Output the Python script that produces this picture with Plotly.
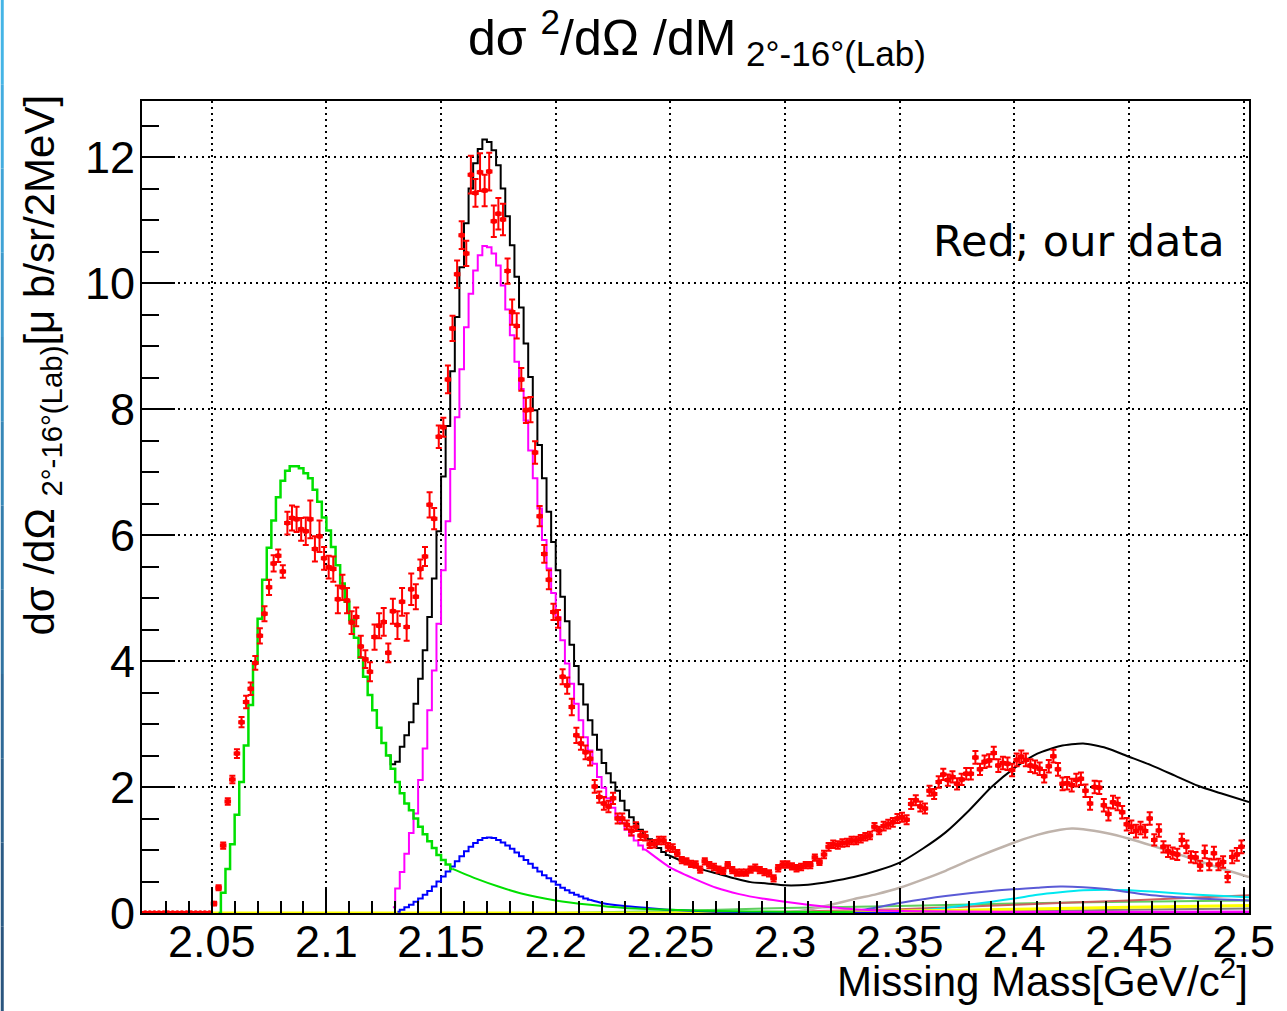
import plotly.graph_objects as go

# ---------------- binning (2 MeV bins from 2.02 GeV) ----------------
bin_lo = 2.02
bin_w = 0.002

# ---------------- red data points (bin centres 2.021 ... 2.499) ----------------
data_y = [
    0, 0, 0, 0, 0, 0, 0, 0, 0, 0, 0, 0, 0, 0, 0,
    0.15, 0.40, 1.07, 1.77, 2.12, 2.53, 3.03, 3.35, 3.56, 3.97,
    4.40, 4.75, 5.17, 5.55, 5.67, 5.42, 6.19, 6.27, 6.25, 6.09,
    6.06, 6.25, 5.78, 5.98, 5.63, 5.49, 5.46, 4.98, 5.17, 4.96,
    4.61, 4.70, 4.23, 4.03, 3.83, 4.38, 4.56, 4.62, 4.13, 4.79,
    4.57, 4.94, 4.54, 5.14, 5.02, 5.46, 5.66, 6.48, 6.26, 7.56,
    7.71,
    8.47, 9.28, 10.14, 10.76, 10.47, 11.72, 11.43, 11.76, 11.47, 11.77,
    10.98, 11.10, 11.01, 10.19, 9.54, 9.32, 8.47, 7.98, 7.99, 7.31,
    6.30, 5.70, 5.29,
    4.78, 4.67, 3.75, 3.61, 3.27, 2.82, 2.69, 2.55, 2.45, 2.01,
    1.84, 1.74, 1.69, 1.82, 1.50, 1.50, 1.40, 1.30, 1.37, 1.23,
    1.22, 1.09, 1.10, 1.15, 1.15, 1.05,
    1.03, 0.95, 0.84, 0.82, 0.78, 0.77, 0.69, 0.82, 0.76, 0.73,
    0.69, 0.67, 0.76, 0.68, 0.64, 0.64, 0.64, 0.69, 0.72, 0.68,
    0.65, 0.63, 0.55, 0.71, 0.77, 0.77, 0.74, 0.71, 0.73, 0.76,
    0.76, 0.88, 0.81, 0.93, 1.05, 1.09, 1.08, 1.11, 1.12, 1.15,
    1.15, 1.18, 1.21, 1.23, 1.37,
    1.31, 1.38, 1.41, 1.44, 1.50, 1.52, 1.48, 1.73, 1.79, 1.69,
    1.66, 1.94, 1.89, 2.08, 2.20, 2.11, 2.16, 2.05, 2.12, 2.21,
    2.21, 2.47, 2.28, 2.40, 2.42, 2.54, 2.34, 2.38, 2.37, 2.27,
    2.43, 2.48, 2.43, 2.34, 2.32, 2.29, 2.17, 2.33, 2.49, 2.28,
    2.05, 2.06, 2.03, 2.11, 2.13, 1.94, 1.74, 2.00, 1.99, 1.71,
    1.57, 1.76, 1.73, 1.60, 1.41, 1.37, 1.30, 1.35, 1.30, 1.50,
    1.16, 1.31, 1.05, 0.98, 0.95, 0.93, 1.16, 1.05, 0.89, 0.88,
    0.75, 0.97, 0.77, 0.95, 0.77, 0.81, 0.57, 0.89, 0.93, 1.05,
]
data_err = [
    0, 0, 0, 0, 0, 0, 0, 0, 0, 0, 0, 0, 0, 0, 0,
    0.03, 0.04, 0.05, 0.05, 0.06, 0.07, 0.08, 0.10, 0.10, 0.11,
    0.12, 0.12, 0.12, 0.13, 0.10, 0.10, 0.18, 0.20, 0.20, 0.18,
    0.22, 0.30, 0.20, 0.25, 0.18, 0.18, 0.20, 0.22, 0.20, 0.20,
    0.18, 0.15, 0.17, 0.14, 0.15, 0.20, 0.20, 0.22, 0.15, 0.20,
    0.22, 0.22, 0.22, 0.25, 0.20, 0.15, 0.15, 0.20, 0.17, 0.18,
    0.15,
    0.22, 0.20, 0.22, 0.22, 0.20, 0.30, 0.22, 0.30, 0.25, 0.30,
    0.25, 0.25, 0.25, 0.20, 0.20, 0.20, 0.18, 0.20, 0.20, 0.18,
    0.16, 0.14, 0.15,
    0.13, 0.14, 0.12, 0.13, 0.13, 0.12, 0.10, 0.11, 0.11, 0.10,
    0.09, 0.10, 0.09, 0.09, 0.08, 0.08, 0.07, 0.07, 0.07, 0.07,
    0.07, 0.06, 0.06, 0.06, 0.06, 0.06,
    0.06, 0.05, 0.05, 0.05, 0.05, 0.05, 0.05, 0.05, 0.05, 0.05,
    0.05, 0.05, 0.05, 0.05, 0.05, 0.05, 0.05, 0.05, 0.05, 0.05,
    0.05, 0.05, 0.05, 0.05, 0.05, 0.05, 0.05, 0.05, 0.05, 0.05,
    0.05, 0.05, 0.05, 0.06, 0.06, 0.06, 0.06, 0.06, 0.06, 0.06,
    0.06, 0.06, 0.06, 0.06, 0.06,
    0.06, 0.07, 0.07, 0.07, 0.07, 0.07, 0.07, 0.08, 0.08, 0.08,
    0.08, 0.08, 0.08, 0.09, 0.09, 0.09, 0.09, 0.09, 0.09, 0.09,
    0.09, 0.10, 0.09, 0.10, 0.10, 0.10, 0.10, 0.10, 0.10, 0.10,
    0.10, 0.10, 0.10, 0.10, 0.10, 0.10, 0.10, 0.10, 0.10, 0.10,
    0.10, 0.10, 0.10, 0.10, 0.10, 0.10, 0.10, 0.10, 0.10, 0.10,
    0.10, 0.10, 0.10, 0.10, 0.10, 0.10, 0.10, 0.10, 0.10, 0.10,
    0.09, 0.10, 0.09, 0.09, 0.09, 0.09, 0.10, 0.10, 0.09, 0.09,
    0.08, 0.10, 0.09, 0.10, 0.09, 0.09, 0.08, 0.10, 0.10, 0.10,
]

# ---------------- fitted components: 2 MeV step parts ----------------
green_x0 = 2.053
green_step = [
    0.00, 0.32, 0.70, 1.09, 1.56, 2.08, 2.66, 3.30, 3.97, 4.67,
    5.29, 5.80, 6.23, 6.60, 6.86, 7.02, 7.09, 7.09, 7.06, 6.98,
    6.90, 6.72, 6.53, 6.28, 6.07, 5.81, 5.52, 5.23, 4.94, 4.65,
    4.37, 4.05, 3.75, 3.46, 3.22, 2.94, 2.70, 2.50, 2.29, 2.08,
    1.90, 1.74, 1.63, 1.50, 1.37, 1.25, 1.14, 1.03, 0.92, 0.84,
    0.77, 0.70,
]
green_tail_x = [2.155, 2.165, 2.175, 2.185, 2.200, 2.215, 2.230, 2.250, 2.270, 2.300, 2.330]
green_tail_y = [0.70, 0.55, 0.42, 0.31, 0.20, 0.13, 0.08, 0.05, 0.03, 0.02, 0.01]

black_x0 = 2.127
black_step = [
    2.50, 2.36, 2.40, 2.64, 2.82, 3.03, 3.32, 3.72, 4.17, 4.70,
    5.31, 6.06, 6.93, 7.73, 8.60, 9.46, 10.25, 10.95, 11.50, 11.90,
    12.13, 12.28, 12.24, 12.11, 11.87, 11.50, 11.06, 10.60, 10.10, 9.61,
    9.04, 8.51, 7.98, 7.43, 6.90, 6.37, 5.89, 5.44, 5.02, 4.63,
    4.26, 3.92, 3.63, 3.31, 3.06, 2.83, 2.59, 2.38, 2.22, 2.07,
    1.94, 1.78, 1.63, 1.52, 1.42, 1.32, 1.23, 1.17, 1.09, 1.03,
    0.97, 0.92,
]
black_tail_x = [2.249, 2.256, 2.263, 2.270, 2.278, 2.285, 2.292, 2.300, 2.310, 2.320,
                2.330, 2.340, 2.350, 2.360, 2.370, 2.380, 2.390, 2.400, 2.410, 2.420,
                2.430, 2.440, 2.450, 2.460, 2.470, 2.480, 2.490, 2.5023]
black_tail_y = [0.92, 0.81, 0.70, 0.63, 0.55, 0.49, 0.47, 0.44, 0.45, 0.50,
                0.57, 0.67, 0.80, 1.02, 1.28, 1.62, 2.00, 2.30, 2.53, 2.65,
                2.69, 2.62, 2.48, 2.34, 2.18, 2.02, 1.90, 1.76]

magenta_x0 = 2.129
magenta_step = [
    0.09, 0.39, 0.65, 0.94, 1.27, 1.58, 2.11, 2.61, 3.22, 3.85,
    4.59, 5.44, 6.22, 7.05, 7.87, 8.63, 9.30, 9.83, 10.20, 10.44,
    10.59, 10.57, 10.47, 10.28, 9.96, 9.58, 9.17, 8.75, 8.32, 7.82,
    7.34, 6.90, 6.42, 5.92, 5.47, 5.08, 4.70, 4.33, 3.96, 3.64,
    3.32, 3.06, 2.79, 2.58, 2.37, 2.16, 1.99, 1.82, 1.67, 1.53,
    1.43, 1.32, 1.23, 1.15, 1.07, 1.01,
]
magenta_tail_x = [2.239, 2.250, 2.260, 2.270, 2.280, 2.290, 2.300, 2.310, 2.320, 2.330, 2.350, 2.400, 2.5023]
magenta_tail_y = [1.01, 0.72, 0.55, 0.40, 0.30, 0.23, 0.18, 0.13, 0.09, 0.06, 0.03, 0.02, 0.02]

blue_x0 = 2.131
blue_step = [
    0.02, 0.05, 0.09, 0.13, 0.18, 0.23, 0.29, 0.35, 0.42, 0.50,
    0.58, 0.66, 0.74, 0.82, 0.90, 0.98, 1.05, 1.11, 1.16, 1.19,
    1.20, 1.19, 1.16, 1.12, 1.07, 1.02, 0.96, 0.90, 0.84, 0.78,
    0.72, 0.66, 0.60, 0.55, 0.50, 0.45, 0.40, 0.36, 0.32, 0.29,
    0.26, 0.23, 0.21,
]
blue_tail_x = [2.215, 2.220, 2.230, 2.240, 2.250, 2.270, 2.300, 2.350]
blue_tail_y = [0.21, 0.16, 0.11, 0.08, 0.05, 0.02, 0.01, 0.00]

# ---------------- smooth components at high mass ----------------
gray_x = [2.300, 2.310, 2.320, 2.330, 2.340, 2.350, 2.360, 2.370, 2.380, 2.390, 2.400,
          2.410, 2.420, 2.425, 2.430, 2.440, 2.450, 2.460, 2.470, 2.480, 2.490, 2.5023]
gray_y = [0.00, 0.05, 0.13, 0.22, 0.30, 0.40, 0.53, 0.67, 0.83, 0.98, 1.12,
          1.24, 1.32, 1.34, 1.33, 1.27, 1.18, 1.07, 0.95, 0.83, 0.71, 0.57]

slate_x = [2.300, 2.330, 2.350, 2.370, 2.390, 2.410, 2.420, 2.430, 2.440, 2.450, 2.460, 2.480, 2.5023]
slate_y = [0.00, 0.03, 0.16, 0.27, 0.35, 0.40, 0.42, 0.41, 0.38, 0.33, 0.28, 0.23, 0.20]

cyan_x = [2.330, 2.350, 2.370, 2.380, 2.390, 2.400, 2.410, 2.420, 2.430, 2.440, 2.450, 2.460, 2.480, 2.5023]
cyan_y = [0.00, 0.02, 0.08, 0.13, 0.18, 0.23, 0.29, 0.33, 0.36, 0.37, 0.36, 0.34, 0.29, 0.25]

rose_x = [2.250, 2.300, 2.350, 2.400, 2.450, 2.5023]
rose_y = [0.00, 0.02, 0.06, 0.13, 0.20, 0.28]

lgreen_x = [2.200, 2.250, 2.300, 2.350, 2.400, 2.450, 2.5023]
lgreen_y = [0.00, 0.03, 0.08, 0.11, 0.15, 0.18, 0.20]

dgray_x = [2.300, 2.350, 2.400, 2.450, 2.5023]
dgray_y = [0.00, 0.01, 0.03, 0.05, 0.07]

yellow_x = [2.050, 2.300, 2.350, 2.400, 2.450, 2.5023]
yellow_y = [0.00, 0.00, 0.03, 0.06, 0.09, 0.12]

dmag_x = [2.300, 2.400, 2.5023]
dmag_y = [0.00, 0.01, 0.02]

dblue_x = [2.200, 2.5023]
dblue_y = [0.00, 0.00]

# ---------------- axis ticks ----------------
x_ticks = [2.05, 2.1, 2.15, 2.2, 2.25, 2.3, 2.35, 2.4, 2.45, 2.5]
x_labels = ["2.05", "2.1", "2.15", "2.2", "2.25", "2.3", "2.35", "2.4", "2.45", "2.5"]
y_ticks = [0, 2, 4, 6, 8, 10, 12]
y_labels = ["0", "2", "4", "6", "8", "10", "12"]

X_RANGE = [2.0196, 2.5023]
Y_RANGE = [0, 12.89]


def centres(x0, n):
    return [round(x0 + bin_w * i, 4) for i in range(n)]


data_x = centres(bin_lo + bin_w / 2, len(data_y))

fig = go.Figure()


def smooth(x, y, color, width=2):
    fig.add_trace(go.Scatter(x=x, y=y, mode="lines", line=dict(color=color, width=width, shape="spline", smoothing=0.6),
                             hoverinfo="skip", showlegend=False))


def step(x0, y, color, width=2):
    fig.add_trace(go.Scatter(x=centres(x0, len(y)), y=y, mode="lines", line=dict(color=color, width=width, shape="hvh"),
                             hoverinfo="skip", showlegend=False))


# small components near the baseline
smooth(dblue_x, dblue_y, "#0000cc", 2)
smooth(dmag_x, dmag_y, "#cc00cc", 2)
smooth(dgray_x, dgray_y, "#808080", 2)
smooth(lgreen_x, lgreen_y, "#5fcf5f", 2)
smooth(rose_x, rose_y, "#cd6060", 2)
smooth(cyan_x, cyan_y, "#00e8f0", 2)
smooth(slate_x, slate_y, "#5a5ad6", 2)
smooth(gray_x, gray_y, "#bfb3ab", 2.5)
smooth(yellow_x, yellow_y, "#ffff00", 3)

# main components
step(blue_x0, blue_step, "#0000ff", 2)
smooth(blue_tail_x, blue_tail_y, "#0000ff", 2)
step(magenta_x0, magenta_step, "#ff00ff", 2)
smooth(magenta_tail_x, magenta_tail_y, "#ff00ff", 2)
step(black_x0, black_step, "#000000", 2)
smooth(black_tail_x, black_tail_y, "#000000", 2)
step(green_x0, green_step, "#00e000", 2.5)
smooth(green_tail_x, green_tail_y, "#00e000", 2)

# data
fig.add_trace(go.Scatter(
    x=data_x, y=data_y, mode="markers",
    marker=dict(color="#ff0000", size=5.5, symbol="circle"),
    error_y=dict(type="data", array=data_err, color="#ff0000", thickness=2, width=3),
    error_x=dict(type="constant", value=bin_w / 2, color="#ff0000", thickness=2, width=2),
    hoverinfo="skip", showlegend=False,
))

L, R, T, B = 142, 32, 101, 98
W, H = 1287, 1011
pw, ph = W - L - R, H - T - B


def px(xp):
    return (xp - L) / pw


def py(yp):
    return (H - B - yp) / ph


# left decorative stripe (blue gradient)
stripe_cols = ["#45b4e6", "#43acdf", "#40a3d6", "#3d9acc", "#3a91c2", "#3787b7",
               "#347dac", "#3173a1", "#2f6a97", "#2d628d", "#2b5b85", "#2a557e"]
nseg = len(stripe_cols)
for i, c in enumerate(stripe_cols):
    fig.add_shape(type="rect", xref="paper", yref="paper",
                  x0=px(0), x1=px(3), y0=py(H * i / nseg), y1=py(H * (i + 1) / nseg),
                  line=dict(width=0), fillcolor=c, layer="above")

font_main = "Liberation Sans, Arial, Helvetica, sans-serif"

fig.update_layout(
    width=W, height=H, autosize=False,
    margin=dict(l=L, r=R, t=T, b=B, pad=0),
    paper_bgcolor="white", plot_bgcolor="white",
    showlegend=False,
    xaxis=dict(
        range=X_RANGE, tickmode="array", tickvals=x_ticks, ticktext=x_labels,
        ticks="inside", ticklen=25, tickwidth=2, tickcolor="black",
        ticklabelstandoff=-12,
        minor=dict(dtick=0.01, tick0=2.0, ticks="inside", ticklen=12, tickwidth=1.5, tickcolor="black", showgrid=False),
        showline=True, mirror=True, linecolor="black", linewidth=2,
        showgrid=True, gridcolor="black", gridwidth=1.5, griddash="2px,4px",
        zeroline=False,
        tickfont=dict(family=font_main, size=45, color="black"),
    ),
    yaxis=dict(
        range=Y_RANGE, tickmode="array", tickvals=y_ticks, ticktext=y_labels,
        ticks="inside", ticklen=33, tickwidth=2, tickcolor="black",
        ticklabelstandoff=-4,
        minor=dict(dtick=0.5, tick0=0, ticks="inside", ticklen=17, tickwidth=1.5, tickcolor="black", showgrid=False),
        showline=True, mirror=True, linecolor="black", linewidth=2,
        showgrid=True, gridcolor="black", gridwidth=1.5, griddash="2px,4px",
        zeroline=False,
        tickfont=dict(family=font_main, size=45, color="black"),
    ),
    annotations=[
        dict(text="dσ <sup>2</sup>/dΩ /dM<sub> 2°-16°(Lab)</sub>", xref="paper", yref="paper",
             x=px(700), y=py(38), xanchor="center", yanchor="middle", showarrow=False,
             font=dict(family=font_main, size=50, color="black")),
        dict(text="Missing Mass[GeV/c<sup>2</sup>]", xref="paper", yref="paper",
             x=px(1256), y=py(1007), xanchor="right", yanchor="bottom", showarrow=False,
             font=dict(family=font_main, size=42, color="black")),
        dict(text="dσ /dΩ <sub>2°-16°(Lab)</sub>[μ b/sr/2MeV]", xref="paper", yref="paper",
             x=px(41), y=py(365), xanchor="center", yanchor="middle", textangle=-90, showarrow=False,
             font=dict(family=font_main, size=42, color="black")),
        dict(text="Red; our data", xref="paper", yref="paper",
             x=px(935), y=py(241), xanchor="left", yanchor="middle", showarrow=False,
             font=dict(family="DejaVu Sans, Verdana, sans-serif", size=43, color="black")),
    ],
)

fig.write_html("out.html")
